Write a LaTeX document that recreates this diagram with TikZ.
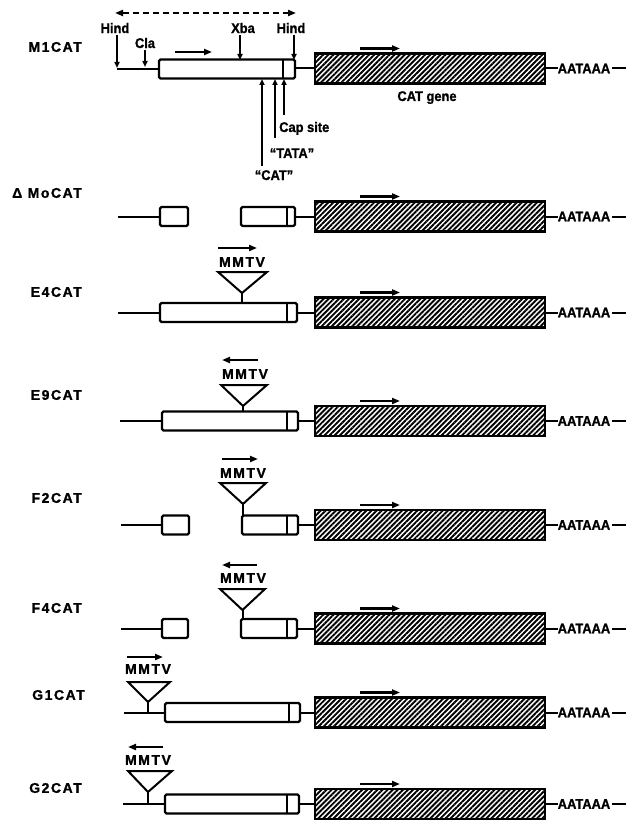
\documentclass[tikz,border=0pt]{standalone}
\usepackage{fontspec}
\setmainfont{Liberation Sans}
\newfontfamily\labfont[LetterSpace=11,FakeBold=1.2]{Liberation Sans}
\newfontfamily\condfont[FakeStretch=0.92,FakeBold=1.2]{Liberation Sans}
\usetikzlibrary{arrows.meta,patterns.meta}
\newcommand\promobox[4]{% x1, x2, xdiv, y
  \draw[pbox] (#1,#4-9.5) rectangle (#2,#4+9.5);
  \draw[line width=2.2pt] (#3,#4-9.5) -- (#3,#4+9.5);}
\newcommand\smallbox[3]{% x1, x2, y
  \draw[pbox] (#1,#3-9.5) rectangle (#2,#3+9.5);}
\begin{document}
\begin{tikzpicture}[x=1pt,y=-1pt,
  lab/.style={font=\labfont\bfseries\fontsize{14}{16}\selectfont, inner sep=0pt, anchor=east},
  mm/.style={font=\labfont\bfseries\fontsize{14}{16}\selectfont, inner sep=0pt},
  site/.style={font=\condfont\bfseries\fontsize{14}{16}\selectfont, inner sep=0pt},
  bb/.style={line width=2pt},
  pbox/.style={draw, line width=2.4pt, rounded corners=1.5pt, fill=white},
  gene/.style={draw, line width=2.8pt, pattern={Lines[angle=45,distance=3.6pt,line width=1.9pt]}},
  dir/.style={line width=2.4pt, -{Triangle[length=8pt,width=6pt]}},
  pin/.style={line width=1.9pt, -{Triangle[length=6pt,width=5pt]}},
  ins/.style={draw, line width=2pt, line join=miter}
]
\useasboundingbox (0,0) rectangle (628,821);

% ---------- right-hand part (CAT gene) of every row ----------
\foreach \y/\e/\n in {68.5/295/a, 216.5/295/b, 312.5/297/c, 421/298/d, 525/298/e, 628.5/297/f, 712.5/300/g, 804/299/h}{
  \draw[bb] (\e,\y) -- (315,\y);
  \draw[gene] (315,\y-15) rectangle (545,\y+15);
  \draw[dir] (360,\y-20) -- (400,\y-20);
  \node[site] (aat\n) at (584,\y) {AATAAA};
  \draw[bb] (545,\y) -- (aat\n.west);
  \draw[bb] (aat\n.east) ++(1.5,0) -- (626,\y);
}

% ---------- M1CAT ----------
\node[lab] (l1) at (82,47) {M1CAT};
\draw[dashed, dash pattern=on 6pt off 4pt, line width=2pt,
  {Triangle[length=8pt,width=6pt]}-{Triangle[length=8pt,width=6pt]}] (115,13) -- (296,13);
\node[site] (hindl) at (115,28) {Hind};
\node[site] (cla) at (145,43) {Cla};
\node[site] (xba) at (243,28) {Xba};
\node[site] (hindr) at (291,28) {Hind};
\draw[bb] (117,69) -- (159,69);
\draw[pin] (117,35) -- (117,68);
\draw[pin] (145,50) -- (145,67);
\promobox{159}{295}{283}{69}
\draw[pin] (240,35) -- (240,60);
\draw[pin] (294,35) -- (294,60);
\draw[dir] (175,52) -- (212,52);
\draw[pin] (284,115) -- (284,79);
\draw[pin] (275,138) -- (275,79);
\draw[pin] (262,166) -- (262,79);
\node[site, anchor=base west] (cap) at (279,132) {Cap site};
\node[site, anchor=base] (tata) at (292,158) {“TATA”};
\node[site, anchor=base] (catb) at (274,180) {“CAT”};
\node[site, anchor=base] (catgene) at (427,101) {CAT gene};

% ---------- Delta MoCAT ----------
\node[lab] (l2) at (82,193) {Δ MoCAT};
\draw[bb] (118,216.5) -- (160,216.5);
\smallbox{160}{188}{216.5}
\promobox{241}{295}{287}{216.5}

% ---------- E4CAT ----------
\node[lab] (l3) at (82,292) {E4CAT};
\draw[bb] (118,312.5) -- (160,312.5);
\promobox{160}{297}{287}{312.5}
\draw[ins] (218,272) -- (267,272) -- (242,293) -- cycle;
\draw[ins] (242,293) -- (242,303);
\node[mm] (m3) at (242,262) {MMTV};
\draw[dir] (218,248) -- (257,248);

% ---------- E9CAT ----------
\node[lab] (l4) at (82,395) {E9CAT};
\draw[bb] (120,421) -- (162,421);
\promobox{162}{298}{287}{421}
\draw[ins] (221,385) -- (267,385) -- (243,406) -- cycle;
\draw[ins] (243,406) -- (243,411.5);
\node[mm] (m4) at (245,374) {MMTV};
\draw[dir] (258,360) -- (222,360);

% ---------- F2CAT ----------
\node[lab] (l5) at (82,498) {F2CAT};
\draw[bb] (121,525) -- (162,525);
\smallbox{162}{189}{525}
\promobox{242}{298}{287}{525}
\draw[ins] (220,483) -- (266,483) -- (243,504) -- cycle;
\draw[ins] (243,504) -- (243,515.5);
\node[mm] (m5) at (243,473) {MMTV};
\draw[dir] (222,459) -- (258,459);

% ---------- F4CAT ----------
\node[lab] (l6) at (82,608) {F4CAT};
\draw[bb] (121,628.5) -- (162,628.5);
\smallbox{162}{188}{628.5}
\promobox{241}{297}{287}{628.5}
\draw[ins] (220,589) -- (265,589) -- (242.5,610) -- cycle;
\draw[ins] (242.5,610) -- (242.5,619);
\node[mm] (m6) at (243,578) {MMTV};
\draw[dir] (257,565) -- (222,565);

% ---------- G1CAT ----------
\node[lab] (l7) at (85,695) {G1CAT};
\draw[bb] (124,712.5) -- (165,712.5);
\promobox{165}{300}{289}{712.5}
\draw[ins] (128,682) -- (170,682) -- (148,702) -- cycle;
\draw[ins] (148,702) -- (148,712.5);
\node[mm] (m7) at (148,669) {MMTV};
\draw[dir] (127,657) -- (163,657);

% ---------- G2CAT ----------
\node[lab] (l8) at (82,788) {G2CAT};
\draw[bb] (123,804) -- (165,804);
\promobox{165}{299}{287}{804}
\draw[ins] (128,771) -- (172,771) -- (148,792) -- cycle;
\draw[ins] (148,792) -- (148,804);
\node[mm] (m8) at (148,760) {MMTV};
\draw[dir] (163,747) -- (128,747);
\end{tikzpicture}
\end{document}
